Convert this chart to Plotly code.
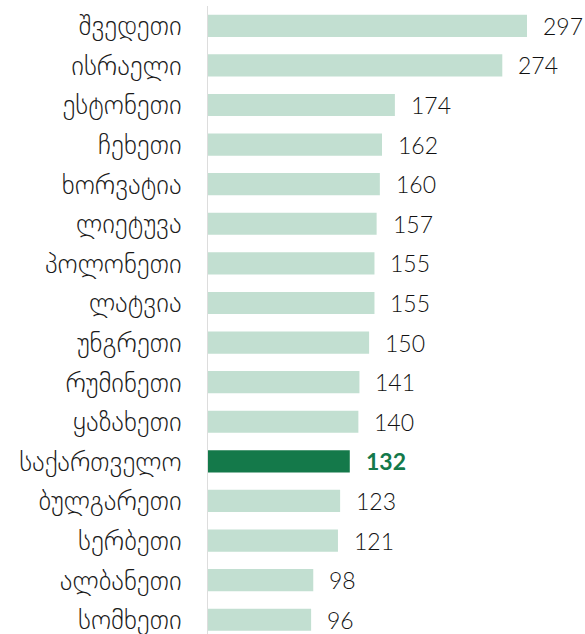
import plotly.graph_objects as go

countries = ["შვედეთი", "ისრაელი", "ესტონეთი", "ჩეხეთი", "ხორვატია", "ლიეტუვა",
             "პოლონეთი", "ლატვია", "უნგრეთი", "რუმინეთი", "ყაზახეთი", "საქართველო",
             "ბულგარეთი", "სერბეთი", "ალბანეთი", "სომხეთი"]
values = [297, 274, 174, 162, 160, 157, 155, 155, 150, 141, 140, 132, 123, 121, 98, 96]
highlight = "საქართველო"

LIGHT = "#c2dfd1"
DARK = "#14794a"
colors = [DARK if c == highlight else LIGHT for c in countries]

fig = go.Figure(go.Bar(
    x=values, y=countries, orientation="h",
    marker=dict(color=colors, line=dict(width=0)),
    width=0.56,
    hoverinfo="skip",
))

for c, v in zip(countries, values):
    hl = c == highlight
    fig.add_annotation(
        x=v, y=c, xref="x", yref="y",
        text=f"<b>{v}</b>" if hl else str(v),
        showarrow=False, xanchor="left", xshift=14,
        font=dict(size=23, color=DARK if hl else "#111111", family="Lato",
                  weight=700 if hl else 300),
    )

fig.update_layout(
    width=585, height=634,
    margin=dict(l=208, r=0, t=6, b=0, autoexpand=False),
    paper_bgcolor="white", plot_bgcolor="white",
    showlegend=False,
    font=dict(family="DejaVu Sans", size=27, color="#1a1a1a", weight=200),
)
fig.update_xaxes(range=[0, 351], showgrid=False, zeroline=False,
                 showticklabels=False, ticks="", showline=False, fixedrange=True)
fig.update_yaxes(range=[15.36, -0.5], showgrid=False, zeroline=False,
                 showline=True, linecolor="#dddddd", linewidth=1, automargin=False,
                 ticks="", ticklabelstandoff=20, fixedrange=True)

fig.write_html("out.html", config={"displayModeBar": False},
               post_script="document.body.style.margin='0';document.body.style.overflow='hidden';")
